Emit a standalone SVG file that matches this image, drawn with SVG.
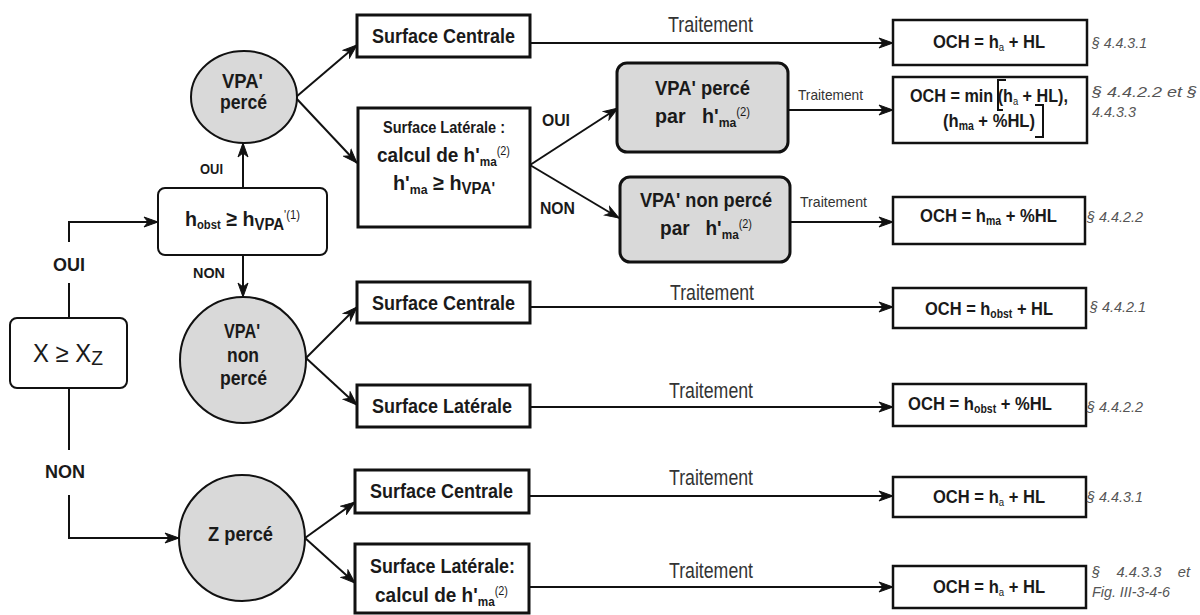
<svg xmlns="http://www.w3.org/2000/svg" width="1200" height="615" viewBox="0 0 1200 615">
  <style>
    text { font-family: "Liberation Sans Narrow", "Liberation Sans", Arial, sans-serif; fill: #1a1a1a; }
    .b { font-weight: bold; }
    .ref { font-style: italic; fill: #555; font-size: 15px; }
    .lbl { font-size: 22px; fill: #333; }
    .lbls { font-size: 15px; fill: #333; }
    .box { fill: #fff; stroke: #111; stroke-width: 3; }
    .res { fill: #fff; stroke: #111; stroke-width: 2.5; }
    .dec { fill: #fff; stroke: #111; stroke-width: 2; }
    .grey { fill: #d9d9d9; stroke: #111; stroke-width: 2; }
    .greybox { fill: #d9d9d9; stroke: #111; stroke-width: 3; }
    .sub { font-size: 13px; baseline-shift: -4px; }
    .subs { font-size: 11px; baseline-shift: -3px; font-weight: normal; }
    .sup { font-size: 12px; baseline-shift: 7px; font-weight: normal; }
    .con path { fill: none; stroke: #111; stroke-width: 2; }
    .con path.ar { marker-end: url(#arrow); }
  </style>
  <defs>
    <marker id="arrow" markerUnits="userSpaceOnUse" markerWidth="16" markerHeight="12" refX="15" refY="6" orient="auto" viewBox="0 0 16 12">
      <path d="M1,1 L15,6 L1,11 L5,6 Z" fill="#111" stroke="#111" stroke-width="1" stroke-linejoin="miter"/>
    </marker>
  </defs>
  <rect width="1200" height="615" fill="#fff"/>

  <!-- connectors and their labels -->
  <g id="connectors" class="con">
    <path d="M69,318 V283"/>
    <path class="ar" d="M69,242 V222 H158"/>
    <text class="b" x="53" y="271" font-size="18" textLength="32" lengthAdjust="spacingAndGlyphs">OUI</text>

    <path d="M69,388 V450"/>
    <path class="ar" d="M69,495 V538 H179"/>
    <text class="b" x="45" y="478" font-size="18" textLength="40" lengthAdjust="spacingAndGlyphs">NON</text>

    <path class="ar" d="M243,188 V143"/>
    <text class="b" x="200" y="174" font-size="14" textLength="23" lengthAdjust="spacingAndGlyphs">OUI</text>

    <path class="ar" d="M243,255 V297"/>
    <text class="b" x="193" y="278" font-size="15" textLength="32" lengthAdjust="spacingAndGlyphs">NON</text>

    <path class="ar" d="M296,97 L357,45"/>
    <path class="ar" d="M296,98 L357,163"/>

    <path class="ar" d="M530,43 H893"/>
    <text class="lbl" x="668" y="32" textLength="85" lengthAdjust="spacingAndGlyphs">Traitement</text>

    <path class="ar" d="M530,165 L618,108"/>
    <text class="b" x="542" y="126" font-size="16" textLength="28" lengthAdjust="spacingAndGlyphs">OUI</text>
    <path class="ar" d="M530,165 L619,218"/>
    <text class="b" x="540" y="214" font-size="16" textLength="35" lengthAdjust="spacingAndGlyphs">NON</text>

    <path class="ar" d="M788,110 H893"/>
    <text class="lbls" x="798" y="100" textLength="65" lengthAdjust="spacingAndGlyphs">Traitement</text>
    <path class="ar" d="M790,222 H893"/>
    <text class="lbls" x="800" y="207" textLength="67" lengthAdjust="spacingAndGlyphs">Traitement</text>

    <path class="ar" d="M306,358 L357,307"/>
    <path class="ar" d="M306,358 L357,405"/>

    <path class="ar" d="M530,307 H893"/>
    <text class="lbl" x="670" y="300" textLength="84" lengthAdjust="spacingAndGlyphs">Traitement</text>
    <path class="ar" d="M530,407 H893"/>
    <text class="lbl" x="669" y="398" textLength="84" lengthAdjust="spacingAndGlyphs">Traitement</text>

    <path class="ar" d="M305,538 L355,502"/>
    <path class="ar" d="M305,538 L355,583"/>

    <path class="ar" d="M529,496 H893"/>
    <text class="lbl" x="669" y="485" textLength="84" lengthAdjust="spacingAndGlyphs">Traitement</text>
    <path class="ar" d="M529,587 H893"/>
    <text class="lbl" x="669" y="578" textLength="84" lengthAdjust="spacingAndGlyphs">Traitement</text>
  </g>

  <!-- decision: X >= Xz -->
  <g id="node-x-xz">
    <rect class="dec" x="10" y="318" width="117" height="70" rx="7"/>
    <text x="33" y="362" font-size="26" textLength="70" lengthAdjust="spacingAndGlyphs">X ≥ X<tspan font-size="21" baseline-shift="-3">Z</tspan></text>
  </g>

  <!-- decision: h_obst >= h_VPA' -->
  <g id="node-hobst">
    <rect class="dec" x="158" y="188" width="169" height="67" rx="7"/>
    <text class="b" x="185" y="226" font-size="21" textLength="115" lengthAdjust="spacingAndGlyphs">h<tspan font-size="12" baseline-shift="-3">obst</tspan> ≥ h<tspan font-size="16" baseline-shift="-4">VPA</tspan><tspan class="sup">'(1)</tspan></text>
  </g>

  <!-- VPA' perce -->
  <g id="node-vpa-perce">
    <ellipse class="grey" cx="244" cy="97" rx="53" ry="46"/>
    <text class="b" x="222" y="88" font-size="21" textLength="41" lengthAdjust="spacingAndGlyphs">VPA'</text>
    <text class="b" x="220" y="109" font-size="21" textLength="47" lengthAdjust="spacingAndGlyphs">percé</text>
  </g>

  <!-- VPA' non perce -->
  <g id="node-vpa-non-perce">
    <circle class="grey" cx="243" cy="360" r="63"/>
    <text class="b" x="224" y="338" font-size="20" textLength="36" lengthAdjust="spacingAndGlyphs">VPA'</text>
    <text class="b" x="227" y="362" font-size="20" textLength="32" lengthAdjust="spacingAndGlyphs">non</text>
    <text class="b" x="220" y="385" font-size="20" textLength="47" lengthAdjust="spacingAndGlyphs">percé</text>
  </g>

  <!-- Z perce -->
  <g id="node-z-perce">
    <circle class="grey" cx="242" cy="538" r="63"/>
    <text class="b" x="208" y="541" font-size="21" textLength="65" lengthAdjust="spacingAndGlyphs">Z percé</text>
  </g>

  <!-- surfaces -->
  <g id="node-sc-1">
    <rect class="box" x="357" y="15" width="173" height="42"/>
    <text class="b" x="372" y="43" font-size="21" textLength="143" lengthAdjust="spacingAndGlyphs">Surface Centrale</text>
  </g>
  <g id="node-sl-1">
    <rect class="box" x="358" y="108" width="172" height="119"/>
    <text class="b" x="383" y="133" font-size="16" textLength="122" lengthAdjust="spacingAndGlyphs">Surface Latérale :</text>
    <text class="b" x="377" y="162" font-size="21" textLength="133" lengthAdjust="spacingAndGlyphs">calcul de h'<tspan class="sub">ma</tspan><tspan class="sup">(2)</tspan></text>
    <text class="b" x="393" y="190" font-size="21" textLength="102" lengthAdjust="spacingAndGlyphs">h'<tspan class="sub">ma</tspan> ≥ h<tspan font-size="16" baseline-shift="-4">VPA'</tspan></text>
  </g>
  <g id="node-vpa-perce-hma">
    <rect class="greybox" x="617" y="63" width="171" height="89" rx="10"/>
    <text class="b" x="655" y="95" font-size="21" textLength="95" lengthAdjust="spacingAndGlyphs">VPA' percé</text>
    <text class="b" x="655" y="123" font-size="21" xml:space="preserve" textLength="95" lengthAdjust="spacingAndGlyphs">par   h'<tspan class="sub">ma</tspan><tspan class="sup">(2)</tspan></text>
  </g>
  <g id="node-vpa-non-perce-hma">
    <rect class="greybox" x="620" y="177" width="170" height="85" rx="10"/>
    <text class="b" x="640" y="207" font-size="21" textLength="132" lengthAdjust="spacingAndGlyphs">VPA' non percé</text>
    <text class="b" x="660" y="235" font-size="21" xml:space="preserve" textLength="92" lengthAdjust="spacingAndGlyphs">par   h'<tspan class="sub">ma</tspan><tspan class="sup">(2)</tspan></text>
  </g>
  <g id="node-sc-2">
    <rect class="box" x="357" y="282" width="173" height="41"/>
    <text class="b" x="372" y="310" font-size="21" textLength="143" lengthAdjust="spacingAndGlyphs">Surface Centrale</text>
  </g>
  <g id="node-sl-2">
    <rect class="box" x="357" y="385" width="173" height="42"/>
    <text class="b" x="372" y="413" font-size="21" textLength="140" lengthAdjust="spacingAndGlyphs">Surface Latérale</text>
  </g>
  <g id="node-sc-3">
    <rect class="box" x="355" y="470" width="174" height="43"/>
    <text class="b" x="370" y="498" font-size="21" textLength="143" lengthAdjust="spacingAndGlyphs">Surface Centrale</text>
  </g>
  <g id="node-sl-3">
    <rect class="box" x="355" y="544" width="174" height="69"/>
    <text class="b" x="370" y="573" font-size="21" textLength="145" lengthAdjust="spacingAndGlyphs">Surface Latérale:</text>
    <text class="b" x="375" y="602" font-size="21" textLength="133" lengthAdjust="spacingAndGlyphs">calcul de h'<tspan class="sub">ma</tspan><tspan class="sup">(2)</tspan></text>
  </g>

  <!-- results -->
  <g id="res-1">
    <rect class="res" x="893" y="20" width="194" height="45"/>
    <text class="b" x="933" y="48" font-size="19" textLength="112" lengthAdjust="spacingAndGlyphs">OCH = h<tspan class="subs">a</tspan> + HL</text>
    <text class="ref" x="1092" y="48" textLength="55" lengthAdjust="spacingAndGlyphs">§ 4.4.3.1</text>
  </g>
  <g id="res-2">
    <rect class="res" x="893" y="77" width="194" height="66"/>
    <text class="b" x="910" y="102" font-size="19" textLength="158" lengthAdjust="spacingAndGlyphs">OCH = min (h<tspan class="subs">a</tspan> + HL),</text>
    <text class="b" x="943" y="127" font-size="19" textLength="92" lengthAdjust="spacingAndGlyphs">(h<tspan font-size="12" baseline-shift="-3">ma</tspan> + %HL)</text>
    <path d="M1006,80 H998 V110 H1003" fill="none" stroke="#111" stroke-width="2"/>
    <path d="M1035,105 H1043 V137 H1035" fill="none" stroke="#111" stroke-width="2"/>
    <text class="ref" x="1092" y="97" textLength="105" lengthAdjust="spacingAndGlyphs">§ 4.4.2.2 et §</text>
    <text class="ref" x="1092" y="117" textLength="44" lengthAdjust="spacingAndGlyphs">4.4.3.3</text>
  </g>
  <g id="res-3">
    <rect class="res" x="893" y="197" width="192" height="47"/>
    <text class="b" x="920" y="222" font-size="19" textLength="137" lengthAdjust="spacingAndGlyphs">OCH = h<tspan font-size="12" baseline-shift="-3">ma</tspan> + %HL</text>
    <text class="ref" x="1087" y="222" textLength="56" lengthAdjust="spacingAndGlyphs">§ 4.4.2.2</text>
  </g>
  <g id="res-4">
    <rect class="res" x="893" y="288" width="193" height="40"/>
    <text class="b" x="925" y="315" font-size="19" textLength="128" lengthAdjust="spacingAndGlyphs">OCH = h<tspan font-size="12" baseline-shift="-3">obst</tspan> + HL</text>
    <text class="ref" x="1090" y="312" textLength="56" lengthAdjust="spacingAndGlyphs">§ 4.4.2.1</text>
  </g>
  <g id="res-5">
    <rect class="res" x="893" y="384" width="193" height="42"/>
    <text class="b" x="908" y="410" font-size="19" textLength="144" lengthAdjust="spacingAndGlyphs">OCH = h<tspan font-size="12" baseline-shift="-3">obst</tspan> + %HL</text>
    <text class="ref" x="1087" y="412" textLength="56" lengthAdjust="spacingAndGlyphs">§ 4.4.2.2</text>
  </g>
  <g id="res-6">
    <rect class="res" x="893" y="477" width="193" height="40"/>
    <text class="b" x="933" y="503" font-size="19" textLength="112" lengthAdjust="spacingAndGlyphs">OCH = h<tspan class="subs">a</tspan> + HL</text>
    <text class="ref" x="1087" y="502" textLength="56" lengthAdjust="spacingAndGlyphs">§ 4.4.3.1</text>
  </g>
  <g id="res-7">
    <rect class="res" x="893" y="566" width="193" height="42"/>
    <text class="b" x="933" y="593" font-size="19" textLength="112" lengthAdjust="spacingAndGlyphs">OCH = h<tspan class="subs">a</tspan> + HL</text>
    <text class="ref" x="1092" y="577" xml:space="preserve" textLength="98" lengthAdjust="spacingAndGlyphs">§    4.4.3.3    et</text>
    <text class="ref" x="1092" y="597" textLength="78" lengthAdjust="spacingAndGlyphs">Fig. III-3-4-6</text>
  </g>
</svg>
